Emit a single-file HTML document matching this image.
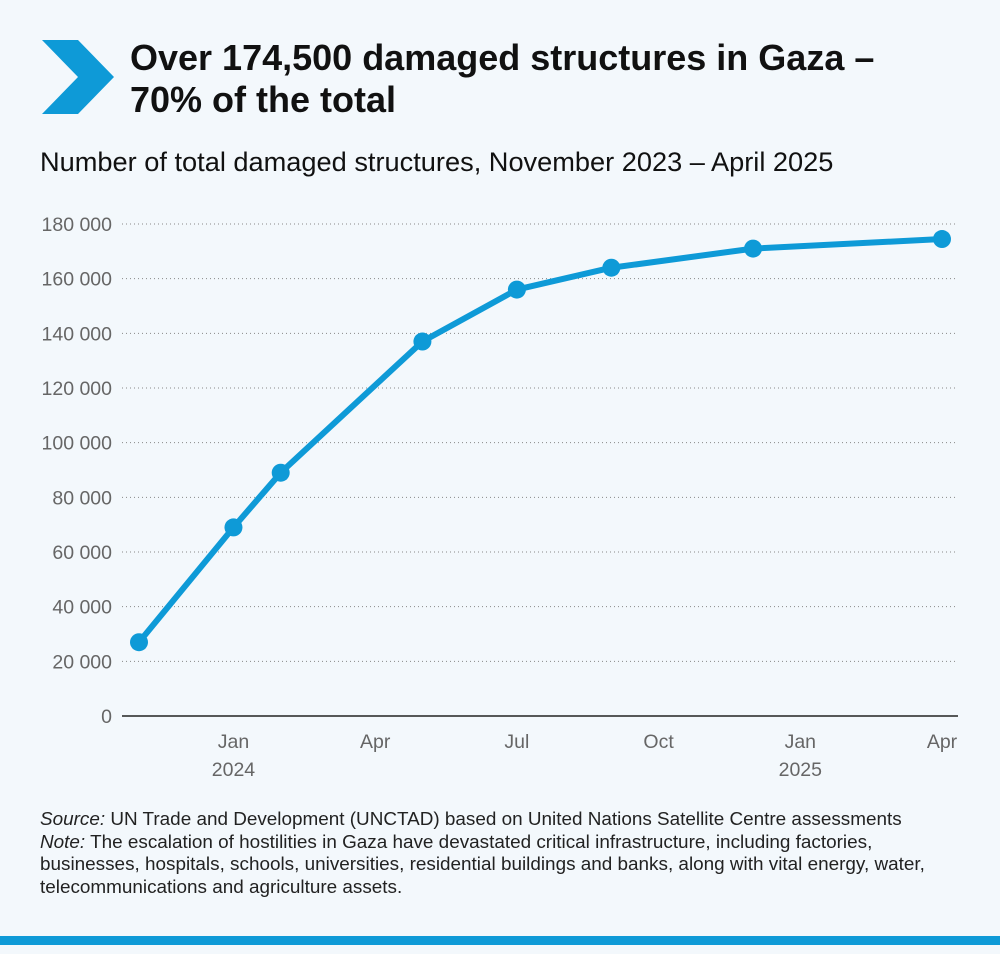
<!DOCTYPE html>
<html><head><meta charset="utf-8"><style>
body{margin:0;width:1000px;height:954px;background:#f3f8fc;font-family:"Liberation Sans",sans-serif;overflow:hidden;position:relative}
.t{position:absolute;left:130px;top:37px;font-size:36px;font-weight:bold;line-height:42px;color:#111;white-space:nowrap}
.s{position:absolute;left:40px;top:146px;font-size:27.2px;line-height:31px;color:#111;white-space:nowrap}
.src{position:absolute;left:40px;top:809px;font-size:18.9px;line-height:22.7px;color:#222;white-space:nowrap}
.bar{position:absolute;left:0;top:936px;width:1000px;height:9px;background:#0e9ad7}
</style></head><body>
<svg style="position:absolute;left:42px;top:40px" width="72" height="74"><polygon points="0,0 36,0 72,37 36,74 0,74 36,37" fill="#0e9ad7"/></svg>
<div class="t">Over 174,500 damaged structures in Gaza –<br>70% of the total</div>
<div class="s">Number of total damaged structures, November 2023 – April 2025</div>
<svg id="c" width="1000" height="800" style="position:absolute;left:0;top:0"></svg>
<div class="src"><i>Source:</i> UN Trade and Development (UNCTAD) based on United Nations Satellite Centre assessments<br><i>Note:</i> The escalation of hostilities in Gaza have devastated critical infrastructure, including factories,<br>businesses, hospitals, schools, universities, residential buildings and banks, along with vital energy, water,<br>telecommunications and agriculture assets.</div>
<div class="bar"></div>
<script>
const months=[0,2,3,6,8,10,13,17];
const values=[27000,69000,89000,137000,156000,164000,171000,174500];
const yTicks=[0,20000,40000,60000,80000,100000,120000,140000,160000,180000];
const xTickMonths=[2,5,8,11,14,17];
const xTickLabels=["Jan","Apr","Jul","Oct","Jan","Apr"];
const xTickYears=["2024","","","","2025",""];
const NS="http://www.w3.org/2000/svg";
const svg=document.getElementById('c');
const X=m=>139+m*(942-139)/17;
const Y=v=>716-v*(716-224)/180000;
function mk(t,a){const e=document.createElementNS(NS,t);for(const k in a)e.setAttribute(k,a[k]);svg.appendChild(e);return e;}
yTicks.forEach(v=>{
 if(v>0){const g=mk('line',{x1:122,x2:958,y1:Y(v),y2:Y(v),stroke:'#888','stroke-width':1,'stroke-dasharray':'1,3'});
 
 }
 const t=mk('text',{x:112,y:Y(v)+7,'text-anchor':'end','font-size':19.5,fill:'#666','font-family':'Liberation Sans'});
 
 
 t.textContent=v.toLocaleString('en-US').replace(/,/g,' ');
});
const ax=mk('line',{x1:122,x2:958,y1:716,y2:716,stroke:'#222','stroke-width':1.5});


xTickMonths.forEach((m,i)=>{
 const t=mk('text',{x:X(m),y:748,'text-anchor':'middle','font-size':19.5,fill:'#666','font-family':'Liberation Sans'});
 
 
 t.textContent=xTickLabels[i];
 if(xTickYears[i]){const y=mk('text',{x:X(m),y:776,'text-anchor':'middle','font-size':19.5,fill:'#666','font-family':'Liberation Sans'});
 
 
 y.textContent=xTickYears[i];}
});
const p=mk('polyline',{points:months.map((m,i)=>X(m)+','+Y(values[i])).join(' '),fill:'none',stroke:'#0e9ad7','stroke-width':6,'stroke-linejoin':'round'});


months.forEach((m,i)=>{
 const c=mk('circle',{cx:X(m),cy:Y(values[i]),r:9,fill:'#0e9ad7'});
 
 
});
</script>
</body></html>
